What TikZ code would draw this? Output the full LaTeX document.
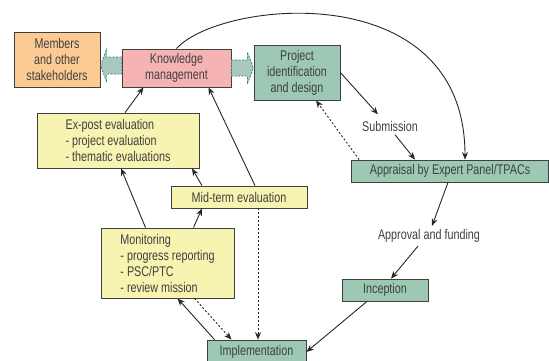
\documentclass[tikz,border=0pt]{standalone}
\usepackage{fontspec}
\setmainfont{Liberation Sans}[FakeStretch=0.77]
\usepackage{xcolor}
\usepackage{tikz}
\usetikzlibrary{positioning, arrows.meta, calc}
\definecolor{peach}{HTML}{FCCB94}
\definecolor{rose}{HTML}{F6B3B3}
\definecolor{seagreen}{HTML}{9CC8B4}
\definecolor{paleyellow}{HTML}{F6F4B0}
\definecolor{arrowgrey}{HTML}{A9C7C3}
\definecolor{dashgreen}{HTML}{2E8B57}
\definecolor{textgrey}{HTML}{404040}
\definecolor{linegrey}{HTML}{404040}

\begin{document}
\begin{tikzpicture}[x=1pt, y=-1pt,
    every node/.style={font=\fontsize{14}{16}\selectfont, text=textgrey},
    box/.style={draw=linegrey, line width=0.8pt, inner sep=0pt, align=center},
    flow/.style={-{Stealth[length=7.5pt, width=6pt]}, line width=0.9pt, draw=black!85},
    dotflow/.style={flow, dash pattern=on 2pt off 2pt},
    blockarr/.style={fill=arrowgrey, draw=dashgreen, line width=0.7pt,
                     dash pattern=on 2pt off 1.5pt}]
  \useasboundingbox (0,0) rectangle (549,360);

  % boxes
  \node[box, fill=peach, minimum width=86pt, minimum height=55pt]
       (members) at (57,59.5) {Members\\and other\\stakeholders};
  \node[box, fill=rose, minimum width=109pt, minimum height=38pt]
       (km) at (176.5,68) {Knowledge\\management};
  \node[box, fill=seagreen, minimum width=86pt, minimum height=55pt]
       (proj) at (297,72.5) {Project\\identification\\and design};
  \node[box, fill=seagreen, minimum width=197pt, minimum height=22pt]
       (appr) at (450,171) {Appraisal by Expert Panel/TPACs};
  \node[box, fill=seagreen, minimum width=86pt, minimum height=22pt]
       (incep) at (385,290) {Inception};
  \node[box, fill=seagreen, minimum width=99pt, minimum height=24pt]
       (impl) at (256.5,352) {Implementation};
  \node[box, fill=paleyellow, align=left, minimum width=162pt, minimum height=55pt]
       (expost) at (118,140.5) {Ex-post evaluation\\- project evaluation\\- thematic evaluations};
  \node[box, fill=paleyellow, minimum width=136pt, minimum height=22pt]
       (mid) at (239,197) {Mid-term evaluation};
  \node[box, fill=paleyellow, align=left, minimum width=133pt, minimum height=70pt]
       (mon) at (167.5,263) {Monitoring\\- progress reporting\\- PSC/PTC\\- review mission};

  % labels between steps
  \node (sub) at (390,126) {Submission};
  \node (appro) at (429,236) {Approval and funding};

  % block arrows out of knowledge management
  \draw[blockarr] ($(km.west)+(0,-11)$) -- ++(-15,0) -- ++(0,-8) -- ++(-6,16.5)
        -- ++(6,16.5) -- ++(0,-8) -- ++(15,0) -- cycle;
  \draw[blockarr] ($(km.east)+(0,-8)$) -- ++(16,0) -- ++(0,-8) -- ++(6,16)
        -- ++(-6,16) -- ++(0,-8) -- ++(-16,0) -- cycle;

  % project cycle
  \draw[flow] (proj.east) -- ([xshift=-12pt, yshift=3pt]sub.north);
  \draw[flow] ([xshift=5pt]sub.south) -- ([xshift=-35pt]appr.north);
  \draw[dotflow] ([xshift=8pt]appr.north west) -- ([xshift=19pt]proj.south);
  \draw[flow] (km.north) .. controls (220,0) and (465,-25) .. ([xshift=15pt]appr.north);
  \draw[flow] ([xshift=-2pt]appr.south) -- ([xshift=3pt]appro.north);
  \draw[flow] ([xshift=-11pt]appro.south) -- ([xshift=6pt]incep.north);
  \draw[flow] ([xshift=-18pt]incep.south) -- (impl.east);

  % monitoring and evaluation
  \draw[flow] ([xshift=-42pt]impl.north) -- ([xshift=10pt]mon.south);
  \draw[dotflow] ([xshift=27pt]mon.south) -- ([xshift=-25pt]impl.north);
  \draw[dotflow] ([xshift=19pt]mid.south) -- ([xshift=19pt]mid.south |- impl.north);
  \draw[flow] ([xshift=-22pt]mon.north) -- ([xshift=3pt]expost.south);
  \draw[flow] ([xshift=26pt]mon.north) -- ([xshift=-37pt]mid.south);
  \draw[flow] ([xshift=-37pt]mid.north) -- ([xshift=74pt]expost.south);
  \draw[flow] ([xshift=16pt]mid.north) -- ([xshift=32pt]km.south);
  \draw[flow] ([xshift=7pt]expost.north) -- ([xshift=-33pt]km.south);
\end{tikzpicture}
\end{document}
